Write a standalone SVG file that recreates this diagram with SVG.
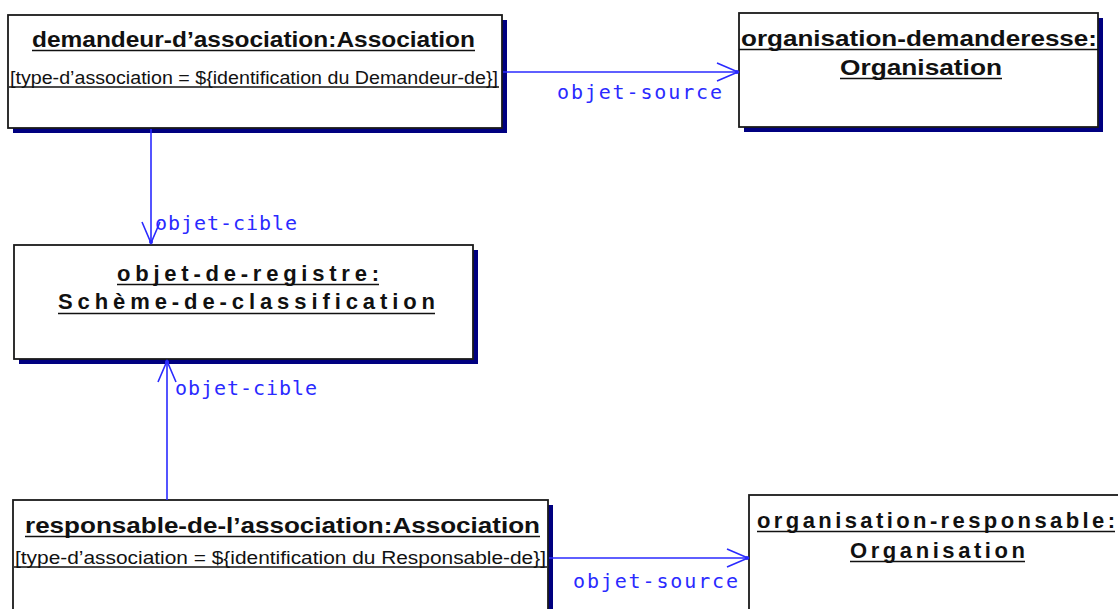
<svg xmlns="http://www.w3.org/2000/svg" width="1118" height="609" viewBox="0 0 1118 609">
<style>
.box{fill:#fff;stroke:#1a1a1a;stroke-width:1.8}
.sh{fill:#000080}
.t{font-family:"Liberation Sans",Arial,sans-serif;font-weight:bold;font-size:22px;fill:#111}
.s{font-family:"Liberation Sans",Arial,sans-serif;font-size:17.5px;fill:#111}
.ul{stroke:#111;stroke-width:1.6}
.c{stroke:#2a2aff;stroke-width:1.6;fill:none}
.lbl{font-family:"DejaVu Sans Mono",monospace;font-size:20px;fill:#2a2aff}
</style>
<defs>
<marker id="ah" markerUnits="userSpaceOnUse" viewBox="0 0 24 22" refX="22" refY="11" markerWidth="24" markerHeight="22" orient="auto">
<path d="M1,2 L22,11 L1,20" fill="none" stroke="#2a2aff" stroke-width="1.6"/>
<circle cx="21" cy="11" r="2" fill="#2a2aff"/>
</marker>
</defs>
<rect width="1118" height="609" fill="#fff"/>

<g id="n1">
<rect class="sh" x="13" y="20" width="494" height="113"/>
<rect class="box" x="8" y="15" width="494" height="113"/>
<text class="t" x="32" y="47" textLength="443" lengthAdjust="spacingAndGlyphs">demandeur-d’association:Association</text>
<line class="ul" x1="32" y1="50.5" x2="475" y2="50.5"/>
<text class="s" x="10" y="84" textLength="488" lengthAdjust="spacingAndGlyphs">[type-d’association = ${identification du Demandeur-de}]</text>
<line class="ul" x1="9" y1="87" x2="499" y2="87"/>
</g>

<g id="n2">
<rect class="sh" x="744" y="18" width="359" height="114"/>
<rect class="box" x="739" y="13" width="359" height="114"/>
<text class="t" x="741" y="46" textLength="356" lengthAdjust="spacingAndGlyphs">organisation-demanderesse:</text>
<line class="ul" x1="739" y1="49.5" x2="1098" y2="49.5"/>
<text class="t" x="840" y="75" textLength="162" lengthAdjust="spacingAndGlyphs">Organisation</text>
<line class="ul" x1="840" y1="78.5" x2="1002" y2="78.5"/>
</g>

<g id="n3">
<rect class="sh" x="19" y="250" width="459" height="114"/>
<rect class="box" x="14" y="245" width="459" height="114"/>
<text class="t" x="117" y="281" textLength="262" lengthAdjust="spacing">objet-de-registre:</text>
<line class="ul" x1="117" y1="284.5" x2="379" y2="284.5"/>
<text class="t" x="58" y="309" textLength="377" lengthAdjust="spacing">Schème-de-classification</text>
<line class="ul" x1="58" y1="313.5" x2="435" y2="313.5"/>
</g>

<g id="n4">
<rect class="sh" x="18" y="505" width="535" height="120"/>
<rect class="box" x="13" y="500" width="535" height="120"/>
<text class="t" x="25" y="533" textLength="515" lengthAdjust="spacingAndGlyphs">responsable-de-l’association:Association</text>
<line class="ul" x1="25" y1="536.5" x2="540" y2="536.5"/>
<text class="s" x="15" y="564" textLength="531" lengthAdjust="spacingAndGlyphs">[type-d’association = ${identification du Responsable-de}]</text>
<line class="ul" x1="14" y1="567" x2="547" y2="567"/>
</g>

<g id="n5">
<rect class="box" x="749" y="495" width="400" height="130"/>
<text class="t" x="757" y="528" textLength="358" lengthAdjust="spacing">organisation-responsable:</text>
<line class="ul" x1="757" y1="531.5" x2="1115" y2="531.5"/>
<text class="t" x="850" y="558" textLength="175" lengthAdjust="spacing">Organisation</text>
<line class="ul" x1="850" y1="561.5" x2="1025" y2="561.5"/>
</g>

<g id="connectors">
<line class="c" x1="503" y1="72" x2="738" y2="72" marker-end="url(#ah)"/>
<text class="lbl" x="557" y="99" textLength="165" lengthAdjust="spacing">objet-source</text>
<line class="c" x1="151" y1="129" x2="151" y2="243" marker-end="url(#ah)"/>
<text class="lbl" x="155" y="230" textLength="142" lengthAdjust="spacing">objet-cible</text>
<line class="c" x1="167" y1="500" x2="167" y2="361" marker-end="url(#ah)"/>
<text class="lbl" x="175" y="395" textLength="142" lengthAdjust="spacing">objet-cible</text>
<line class="c" x1="549" y1="558" x2="748" y2="558" marker-end="url(#ah)"/>
<text class="lbl" x="573" y="588" textLength="165" lengthAdjust="spacing">objet-source</text>
</g>
</svg>
